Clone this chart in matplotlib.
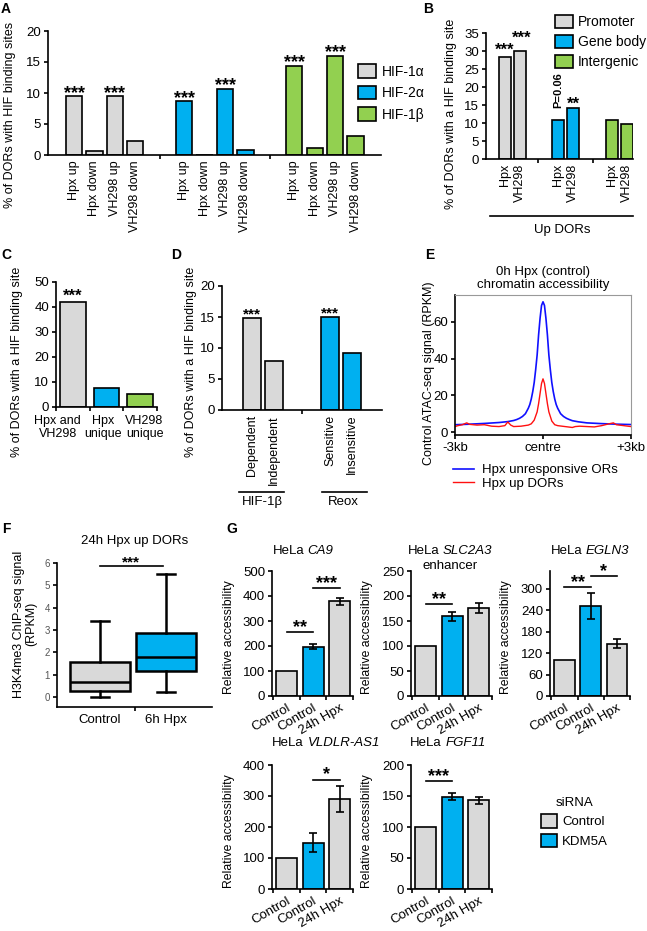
import matplotlib
matplotlib.use('Agg')
import matplotlib.pyplot as plt
from matplotlib.lines import Line2D
from matplotlib.patches import Patch

plt.rcParams['font.family'] = ['Liberation Sans', 'DejaVu Sans']
plt.rcParams['font.size'] = 9
plt.rcParams['axes.linewidth'] = 1.2

W, H = 647, 931
GREY = '#d9d9d9'
BLUE = '#00b0f0'
GREEN = '#92d050'

# ---- data ----
a_labels = ['Hpx up', 'Hpx down', 'VH298 up', 'VH298 down']
a_factors = ['HIF-1α', 'HIF-2α', 'HIF-1β']
a_values = [[9.5, 0.6, 9.5, 2.3],
            [8.7, 0.0, 10.7, 0.8],
            [14.4, 1.2, 16.0, 3.0]]
a_sig = [['***', '', '***', ''],
         ['***', '', '***', ''],
         ['***', '', '***', '']]

b_regions = ['Promoter', 'Gene body', 'Intergenic']
b_labels = ['Hpx', 'VH298']
b_values = [[28.4, 29.9], [10.7, 14.3], [10.9, 9.6]]

c_labels = ['Hpx and\nVH298', 'Hpx\nunique', 'VH298\nunique']
c_values = [42.0, 7.6, 5.2]

d_groups = ['HIF-1β', 'Reox']
d_labels = [['Dependent', 'Independent'], ['Sensitive', 'Insensitive']]
d_values = [[14.8, 7.9], [15.0, 9.2]]

e_pos_blue = [-3.0, -2.5, -2.0, -1.5, -1.2, -1.0, -0.9, -0.8, -0.7, -0.6, -0.5, -0.45, -0.4, -0.35,
              -0.3, -0.25, -0.2, -0.15, -0.1, -0.05, 0.0, 0.05, 0.1, 0.15, 0.2, 0.25, 0.3, 0.35,
              0.4, 0.45, 0.5, 0.6, 0.7, 0.8, 0.9, 1.0, 1.2, 1.5, 2.0, 2.5, 3.0]
e_blue = [4.0, 4.3, 4.7, 5.2, 5.7, 6.3, 6.8, 7.5, 8.5, 10.0, 13.0, 15.0, 18.0, 22.0,
          27.0, 34.0, 42.0, 53.0, 62.0, 69.0, 71.0, 69.0, 62.0, 53.0, 42.0, 34.0, 27.0, 22.0,
          18.0, 15.0, 13.0, 10.0, 8.5, 7.5, 6.8, 6.2, 5.6, 5.0, 4.6, 4.3, 4.1]
e_pos_red = [-3.0, -2.9, -2.75, -2.6, -2.5, -2.25, -2.0, -1.75, -1.5, -1.3, -1.2, -1.1, -1.0, -0.75,
             -0.5, -0.4, -0.3, -0.2, -0.15, -0.1, -0.05, 0.0, 0.05, 0.1, 0.15, 0.2, 0.3, 0.4, 0.5,
             0.75, 1.0, 1.1, 1.25, 1.5, 1.75, 2.0, 2.25, 2.4, 2.5, 2.75, 3.0]
e_red = [3.0, 3.5, 4.0, 5.0, 4.2, 3.8, 4.0, 3.2, 3.0, 3.5, 5.5, 3.8, 3.0, 3.2,
         3.8, 4.5, 6.5, 11.0, 15.5, 21.0, 26.5, 29.0, 26.5, 21.0, 15.5, 11.0, 6.0, 4.0, 3.5,
         3.0, 2.5, 3.0, 3.2, 3.0, 2.8, 3.5, 4.5, 5.0, 4.0, 3.5, 3.0]
e_series = ['Hpx unresponsive ORs', 'Hpx up DORs']

f_labels = ['Control', '6h Hpx']
f_whislo = [0.02, 0.2]
f_q1 = [0.28, 1.15]
f_med = [0.68, 1.8]
f_q3 = [1.58, 2.88]
f_whishi = [3.42, 5.5]

g_genes = ['CA9', 'SLC2A3', 'EGLN3', 'VLDLR-AS1', 'FGF11']
g_notes = ['', 'enhancer', '', '', '']
g_labels = ['Control', 'Control', '24h Hpx']
g_means = [[100, 197, 380], [100, 160, 177], [100, 252, 147], [100, 150, 289], [100, 149, 143]]
g_err = [[0, 10, 14], [0, 9, 10], [0, 37, 12], [0, 31, 42], [0, 6, 6]]
g_sig = [[(0, 1, 256, '**'), (1, 2, 432, '***')],
         [(0, 1, 184, '**')],
         [(0, 1, 305, '**'), (1, 2, 336, '*')],
         [(1, 2, 352, '*')],
         [(0, 1, 174, '***')]]
g_ylim = [500, 250, 350, 400, 200]
g_ystep = [100, 50, 60, 100, 50]

fig = plt.figure(figsize=(W / 100, H / 100), dpi=100)
renderer = fig.canvas.get_renderer()


def px_axes(left, top, right, bottom):
    return fig.add_axes([left / W, 1 - bottom / H, (right - left) / W, (bottom - top) / H])


def fig_text(x, y, s, **kw):
    return fig.text(x / W, 1 - y / H, s, **kw)


def fig_line(x0, x1, y):
    fig.add_artist(Line2D([x0 / W, x1 / W], [1 - y / H, 1 - y / H], color='black', lw=1.2,
                          transform=fig.transFigure))


def gene_title(xc, y, gene, size=9.5):
    # "HeLa " upright followed by the italic gene name, centred on xc
    t1 = fig_text(0, y, 'HeLa', ha='left', va='center', fontsize=size)
    t2 = fig_text(0, y, gene, ha='left', va='center', fontsize=size, style='italic')
    w1 = t1.get_window_extent(renderer).width
    w2 = t2.get_window_extent(renderer).width
    gap = 0.28 * size * 100 / 72
    x0 = xc - (w1 + gap + w2) / 2
    t1.set_x(x0 / W)
    t2.set_x((x0 + w1 + gap) / W)


def style(ax):
    ax.spines[['top', 'right']].set_visible(False)
    ax.tick_params(direction='out', length=3, width=1.2, labelsize=9.5, pad=2)


def ylabel_at(ax, text, x_px, y_px, **kw):
    ax.set_ylabel(text, va='center', **kw)
    bb = ax.get_position()
    ax.yaxis.set_label_coords((x_px / W - bb.x0) / bb.width, ((1 - y_px / H) - bb.y0) / bb.height)


def stars(ax, x, y, s, size=12, gap=8):
    # gap: pixels from y to the centre of the asterisks
    ax.annotate(s, (x, y), xytext=(0, gap / 1.389 - 0.48 * size), textcoords='offset points',
                ha='center', va='baseline', fontsize=size, fontweight='bold')


# panel letters
for letter, x, y in [('A', 6, 9), ('B', 428, 9), ('C', 6, 255), ('D', 176, 255),
                     ('E', 430, 255), ('F', 6, 529), ('G', 232, 529)]:
    fig_text(x, y, letter, fontsize=10, fontweight='bold', ha='center', va='center')

# ---- A ----
axA = px_axes(48, 31, 381, 155)
style(axA)
step = 5.4
for g, col in enumerate([GREY, BLUE, GREEN]):
    xs = [g * step + i for i in range(4)]
    axA.bar(xs, a_values[g], width=0.8, color=col, edgecolor='black', lw=1.2, label=a_factors[g])
    for x, v, s, lab in zip(xs, a_values[g], a_sig[g], a_labels):
        if s:
            stars(axA, x, v, s, size=13, gap=7)
        axA.text(x, -0.8, lab, rotation=90, ha='center', va='top', fontsize=9)
axA.set_xlim(-1.28, 15.05)
axA.set_ylim(0, 20)
axA.set_xticks([4.2, 9.6])
axA.set_xticklabels([])
axA.set_yticks(range(0, 21, 5))
ylabel_at(axA, '% of DORs with HIF binding sites', 10, 115, fontsize=9)
axA.legend(loc='upper left', bbox_to_anchor=(358 / W, 1 - 64 / H), bbox_transform=fig.transFigure,
           frameon=False, fontsize=10, handlelength=1.3, handleheight=1.15, handletextpad=0.4,
           labelspacing=0.5, borderpad=0, borderaxespad=0)

# ---- B ----
axB = px_axes(486, 33, 633, 159)
style(axB)
b_off = [0, 3.55, 7.13]
for g, col in enumerate([GREY, BLUE, GREEN]):
    xs = [b_off[g] + i for i in range(2)]
    axB.bar(xs, b_values[g], width=0.8, color=col, edgecolor='black', lw=1.2, label=b_regions[g])
    for x, lab in zip(xs, b_labels):
        axB.text(x, -1.2, lab, rotation=90, ha='center', va='top', fontsize=9)
stars(axB, 0, b_values[0][0], '***', size=12, gap=10)
stars(axB, 1.1, b_values[0][1], '***', size=12, gap=17)
stars(axB, b_off[1] + 1, b_values[1][1], '**', size=12, gap=7)
axB.annotate('P=0.06', (b_off[1], b_values[1][0]), xytext=(0, 9), textcoords='offset points',
             rotation=90, ha='center', va='bottom', fontsize=8, fontweight='bold')
axB.set_xlim(-1.27, 8.53)
axB.set_ylim(0, 35)
axB.set_xticks([2.2, 5.87])
axB.set_xticklabels([])
axB.set_yticks(range(0, 36, 5))
ylabel_at(axB, '% of DORs with a HIF binding site', 451, 114, fontsize=9)
axB.legend(loc='upper left', bbox_to_anchor=(555 / W, 1 - 15 / H), bbox_transform=fig.transFigure,
           frameon=False, fontsize=10, handlelength=1.3, handleheight=1.1, handletextpad=0.35,
           labelspacing=0.4, borderpad=0, borderaxespad=0)
fig_line(490, 633, 216)
fig_text(562, 230, 'Up DORs', ha='center', va='center', fontsize=9.5)

# ---- C ----
axC = px_axes(56, 282, 157, 407)
style(axC)
axC.bar(range(3), c_values, width=0.77, color=[GREY, BLUE, GREEN], edgecolor='black', lw=1.2)
stars(axC, 0, c_values[0], '***', size=12, gap=9)
axC.set_xlim(-0.5, 2.5)
axC.set_ylim(0, 50)
axC.set_yticks(range(0, 51, 10))
axC.set_xticks([-0.5, 0.5, 1.5, 2.5])
axC.set_xticklabels([])
for x, lab in zip([-0.45, 0.9, 2.13], c_labels):
    axC.text(x, -3.3, lab, ha='center', va='top', fontsize=9, linespacing=1.05)
ylabel_at(axC, '% of DORs with a HIF binding site', 17, 362, fontsize=9)

# ---- D ----
axD = px_axes(222, 286, 382, 410)
style(axD)
d_off = [0, 3.51]
for g, col in enumerate([GREY, BLUE]):
    xs = [d_off[g] + i for i in range(2)]
    axD.bar(xs, d_values[g], width=0.8, color=col, edgecolor='black', lw=1.2)
    for x, lab in zip(xs, d_labels[g]):
        axD.text(x, -0.8, lab, rotation=90, ha='center', va='top', fontsize=9)
    stars(axD, xs[0], d_values[g][0], '***', size=11, gap=7)
axD.set_xlim(-1.33, 5.84)
axD.set_ylim(0, 20)
axD.set_xticks([2.27])
axD.set_xticklabels([])
axD.set_yticks(range(0, 21, 5))
ylabel_at(axD, '% of DORs with a HIF binding site', 191, 362, fontsize=9)
fig_line(239, 284, 492)
fig_text(262, 502, d_groups[0], ha='center', va='center', fontsize=9.5)
fig_line(322, 367, 492)
fig_text(343, 502, d_groups[1], ha='center', va='center', fontsize=9.5)

# ---- E ----
axE = px_axes(455, 295, 631, 435)
axE.plot(e_pos_blue, e_blue, color='#1010ff', lw=1.2, label=e_series[0])
axE.plot(e_pos_red, e_red, color='#ff1010', lw=1.0, label=e_series[1])
axE.set_xlim(-3, 3)
axE.set_ylim(-1.6, 74.7)
axE.set_yticks([0, 20, 40, 60])
axE.set_xticks([-3, 0, 3])
axE.set_xticklabels(['-3kb', 'centre', '+3kb'])
axE.tick_params(direction='out', length=3, width=1.2, labelsize=9.5, pad=2)
for sp in ['top', 'right']:
    axE.spines[sp].set_color('#999999')
    axE.spines[sp].set_linewidth(0.8)
ylabel_at(axE, 'Control ATAC-seq signal (RPKM)', 429, 373, fontsize=9)
axE.set_title('0h Hpx (control)\nchromatin accessibility', fontsize=9.5, pad=5, linespacing=1.1)
axE.legend(loc='upper left', bbox_to_anchor=(453 / W, 1 - 464 / H), bbox_transform=fig.transFigure,
           frameon=False, fontsize=9.5, handlelength=1.6, handletextpad=0.6, labelspacing=0.1,
           borderpad=0, borderaxespad=0)

# ---- F ----
axF = px_axes(57, 563, 212, 707)
style(axF)
f_stats = [dict(label=lab, whislo=lo, q1=q1, med=m, q3=q3, whishi=hi, fliers=[])
           for lab, lo, q1, m, q3, hi in zip(f_labels, f_whislo, f_q1, f_med, f_q3, f_whishi)]
bp = axF.bxp(f_stats, positions=[0, 1], widths=0.9, capwidths=0.27, patch_artist=True,
             boxprops=dict(lw=1.8, edgecolor='black'), whiskerprops=dict(lw=1.8),
             capprops=dict(lw=1.8), medianprops=dict(color='black', lw=1.8))
for patch, col in zip(bp['boxes'], [GREY, BLUE]):
    patch.set_facecolor(col)
axF.set_xlim(-0.65, 1.7)
axF.set_ylim(-0.45, 6.0)
axF.set_yticks(range(0, 7))
axF.tick_params(axis='y', labelsize=7, labelcolor='#555555')
axF.tick_params(axis='x', length=0, pad=5, labelsize=9.5)
axF.set_xticks([0.53], minor=True)
axF.tick_params(axis='x', which='minor', length=3, width=1.2)
ylabel_at(axF, 'H3K4me3 ChIP-seq signal\n(RPKM)', 25, 624, fontsize=9, linespacing=1.1)
axF.set_title('24h Hpx up DORs', fontsize=9.5, pad=14)
axF.plot([0, 0.95], [5.85, 5.85], color='black', lw=1.2, clip_on=False)
stars(axF, 0.47, 5.85, '***', size=11, gap=7)

# ---- G ----
g_boxes = [(272, 571, 353, 696), (411, 571, 492, 696), (550, 571, 630, 696),
           (272, 765, 353, 889), (411, 765, 492, 889)]
g_ylab_x = [229, 367, 506, 229, 367]
g_title_xy = [(303, 551), (450, 551), (590, 551), (326, 743), (448, 743)]
for k in range(5):
    ax = px_axes(*g_boxes[k])
    style(ax)
    cols = [GREY, BLUE, GREY]
    ax.bar(range(3), g_means[k], width=0.78, color=cols, edgecolor='black', lw=1.2)
    ax.errorbar([1, 2], g_means[k][1:], yerr=g_err[k][1:], fmt='none', ecolor='black',
                elinewidth=1.2, capsize=3, capthick=1.2)
    for i0, i1, y, s in g_sig[k]:
        ax.plot([i0, i1], [y, y], color='black', lw=1.2, clip_on=False)
        stars(ax, (i0 + i1) / 2, y, s, size=13, gap=9)
    ax.set_xlim(-0.55, 2.4)
    ax.set_ylim(0, g_ylim[k])
    ax.set_yticks(range(0, g_ylim[k] + 1, g_ystep[k]))
    ax.set_xticks(range(3))
    ax.set_xticklabels(g_labels, rotation=30, ha='right', rotation_mode='anchor', fontsize=9.5)
    ax.tick_params(axis='x', length=0, pad=4)
    ax.set_xticks([-0.5, 0.5, 1.5, 2.5], minor=True)
    ax.tick_params(axis='x', which='minor', length=3, width=1.2)
    top, bottom = g_boxes[k][1], g_boxes[k][3]
    ylabel_at(ax, 'Relative accessibility', g_ylab_x[k], (top + bottom) / 2 + 4, fontsize=8.8)
    tx, ty = g_title_xy[k]
    gene_title(tx, ty, g_genes[k])
    if g_notes[k]:
        fig_text(tx, ty + 15, g_notes[k], ha='center', va='center', fontsize=9.5)
    if k == 0:
        gax = ax

handles = [Patch(facecolor=GREY, edgecolor='black', lw=1.2, label='Control'),
           Patch(facecolor=BLUE, edgecolor='black', lw=1.2, label='KDM5A')]
gax.legend(handles=handles, title='siRNA', loc='upper left', bbox_to_anchor=(541 / W, 1 - 797 / H),
           bbox_transform=fig.transFigure, frameon=False, fontsize=9.5, title_fontsize=9.5,
           handlelength=1.2, handleheight=1.2, handletextpad=0.4, labelspacing=0.4,
           borderpad=0, borderaxespad=0)

fig.savefig('out.png', dpi=100)
